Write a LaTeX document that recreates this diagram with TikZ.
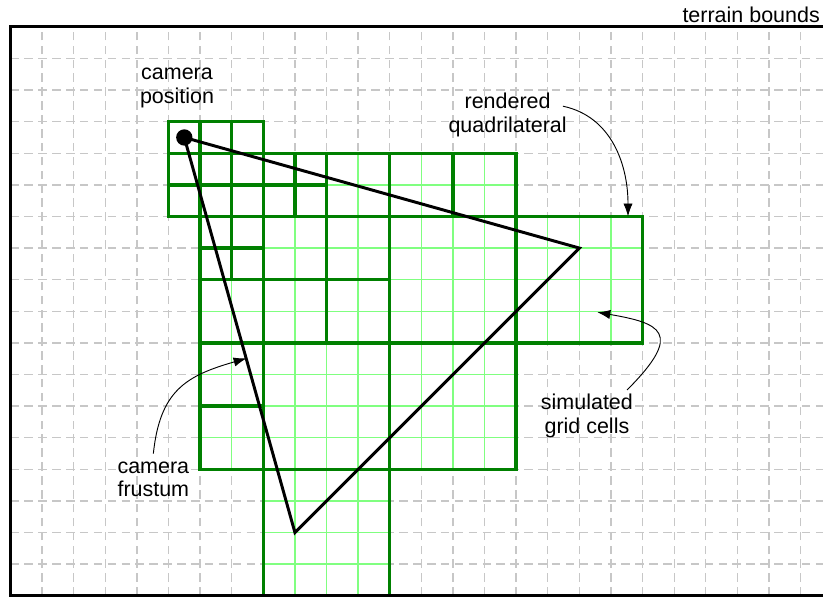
\documentclass[tikz,border=0pt]{standalone}
\usepackage{fontspec}
\setmainfont{Liberation Sans}
\usetikzlibrary{arrows.meta}

\begin{document}
\begin{tikzpicture}[x=6mm,y=6mm,font=\fontsize{11.6}{12.7}\selectfont,
  >={Latex[length=7pt,width=5pt]},
  terrain/.style={draw=black!22,line width=0.7pt,step=1,dash pattern=on 4.6pt off 2.9pt},
  fine/.style={draw=green!50,line width=0.7pt,step=1},
  cellbox/.style={draw=green!50!black,line width=1.8pt},
  bounds/.style={draw=black,line width=1.7pt},
  frustum/.style={draw=black,line width=1.6pt,line join=miter},
  note/.style={align=center,inner sep=0pt},
  pointer/.style={->,line width=0.5pt}]
  \useasboundingbox (-0.332,-0.045) rectangle (25.71,18.85);
  % background terrain grid
  \draw[terrain] (0,0) grid (26,18);
  % simulated cells: x/y/size
  \def\cells{5/14/1,6/14/1,7/14/1,5/13/1,6/13/1,7/13/1,8/13/1,9/13/1,
    5/12/1,6/12/1,7/12/1,8/12/1,9/12/1,6/11/1,7/11/1,6/10/1,7/10/1,
    8/10/2,10/10/2,10/12/2,12/12/2,14/12/2,6/8/2,8/8/2,10/8/2,6/6/2,6/4/2,
    12/8/4,16/8/4,8/4/4,12/4/4,8/0/4}
  \foreach \cx/\cy/\cs in \cells {
    \fill[white] (\cx,\cy) rectangle ++(\cs,\cs);
    \draw[fine] (\cx,\cy) grid ++(\cs,\cs);
  }
  \foreach \cx/\cy/\cs in \cells
    \draw[cellbox] (\cx,\cy) rectangle ++(\cs,\cs);
  % terrain bounds
  \draw[bounds] (26.5,18) -- (0,18) -- (0,0) -- (26.5,0);
  \node[anchor=base east,inner sep=0pt] (tb) at (25.62,18.13) {terrain bounds};
  % camera and frustum
  \node[circle,fill=black,inner sep=0pt,minimum size=3.1mm] (cam) at (5.5,14.5) {};
  \coordinate (far) at (18,11);
  \coordinate (near) at (9,2);
  \draw[frustum] (cam.center) -- (far) -- (near) -- cycle;
  % labels
  \node[note] (campos) at (5.27,16.06) {camera\\position};
  \node[note] (rquad) at (15.73,15.21) {rendered\\quadrilateral};
  \node[note] (simcells) at (18.24,5.68) {simulated\\grid cells};
  \node[note] (camfr) at (4.52,3.69) {camera\\frustum};
  \coordinate (rqtail) at (17.48,15.49);
  \coordinate (rqtip) at (19.54,12);
  \coordinate (sgtail) at (19.51,6.51);
  \coordinate (sgtip) at (18.57,8.97);
  \coordinate (cftip) at (7.47,7.51);
  \draw[pointer] (rqtail) .. controls +(-12:1.6) and +(90:1.6) .. (rqtip);
  \draw[pointer] (sgtail) .. controls +(45:2.6) and +(-10:2) .. (sgtip);
  \draw[pointer] ([yshift=4pt]camfr.north) .. controls +(84:2) and +(196:2) .. (cftip);
\end{tikzpicture}
\end{document}
